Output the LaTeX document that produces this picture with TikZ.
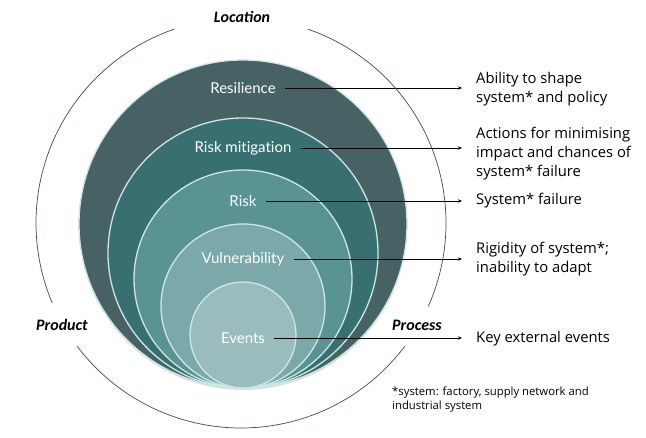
\documentclass[tikz,border=0pt]{standalone}
\usepackage{fontspec}
\setmainfont{Open Sans}
\newfontfamily\ringfont[Ligatures=NoCommon]{Lato}
\newfontfamily\sidefont{Carlito}
\usetikzlibrary{positioning,arrows.meta,shadows}
\definecolor{resfill}{HTML}{466265}
\definecolor{mitfill}{HTML}{387072}
\definecolor{riskfill}{HTML}{5A9394}
\definecolor{vulfill}{HTML}{7BA9AA}
\definecolor{evtfill}{HTML}{9ABCBD}
\definecolor{ringedge}{HTML}{CDE6E6}
\definecolor{arcgrey}{HTML}{34504F}
\tikzset{
  % --- nested circles --------------------------------------------------------
  ring/.style={circle,draw=ringedge,line width=1.3pt,inner sep=0pt},
  ringlab/.style={font=\ringfont\fontsize{15}{17}\selectfont,text=white,
                  inner sep=1pt},
  % --- descriptions on the right ---------------------------------------------
  desc/.style={font=\fontsize{14.8}{19}\selectfont,align=left,anchor=west,
               inner sep=0pt},
  pt/.style={-{Stealth[length=4pt,width=3.4pt]},line width=0.7pt,black,
             shorten <=8pt,shorten >=2pt},
  % --- outer frame -----------------------------------------------------------
  frame/.style={arcgrey,line width=0.7pt},
  side/.style={font=\sidefont\bfseries\itshape\fontsize{16}{18}\selectfont},
}
\begin{document}
\begin{tikzpicture}[x=1pt,y=1pt]
  \useasboundingbox (0,0) rectangle (646,438);

  % circles all touch at the bottom (y=50)
  \node[ring,fill=resfill,minimum size=328pt,
        drop shadow={opacity=0.25,shadow xshift=0pt,shadow yshift=-2pt}]
        (res) at (243,214) {};
  \node[ring,fill=mitfill,minimum size=270pt]  (mit)  at (243,185) {};
  \node[ring,fill=riskfill,minimum size=218pt] (risk) at (243,159) {};
  \node[ring,fill=vulfill,minimum size=164pt]  (vul)  at (243,132) {};
  \node[ring,fill=evtfill,minimum size=106pt]  (evt)  at (243,103) {};

  \node[ringlab] (res-l)  at (243,350) {Resilience};
  \node[ringlab] (mit-l)  at (243,290) {Risk mitigation};
  \node[ringlab] (risk-l) at (243,237) {Risk};
  \node[ringlab] (vul-l)  at (243,179) {Vulnerability};
  \node[ringlab] (evt-l)  at (243,100) {Events};

  \node[desc] (res-d)  at (476,349) {Ability to shape\\system* and policy};
  \node[desc] (mit-d)  at (476,284) {Actions for minimising\\impact and chances of\\system* failure};
  \node[desc] (risk-d) at (476,237) {System* failure};
  \node[desc] (vul-d)  at (476,179) {Rigidity of system*;\\inability to adapt};
  \node[desc] (evt-d)  at (476,99)  {Key external events};

  \foreach \n in {res,mit,risk,vul,evt}
    \draw[pt] (\n-l.east) -- ([xshift=-12pt]\n-l -| \n-d.west);

  % thin ring, broken at the three side labels
  \coordinate (o) at (241,215);
  \draw[frame] (o) ++(109:205) arc[start angle=109,end angle=203,radius=205];
  \draw[frame] (o) ++(217:205) arc[start angle=217,end angle=323,radius=205];
  \draw[frame] (o) ++(-24:205) arc[start angle=-24,end angle=71,radius=205];

  \node[side] (loc)  at (242,421) {Location};
  \node[side] (prod) at (62,113)  {Product};
  \node[side] (proc) at (417,113) {Process};

  \node[desc,font=\fontsize{11.3}{14}\selectfont] (note) at (392,38)
       {*system: factory, supply network and\\industrial system};
\end{tikzpicture}
\end{document}
